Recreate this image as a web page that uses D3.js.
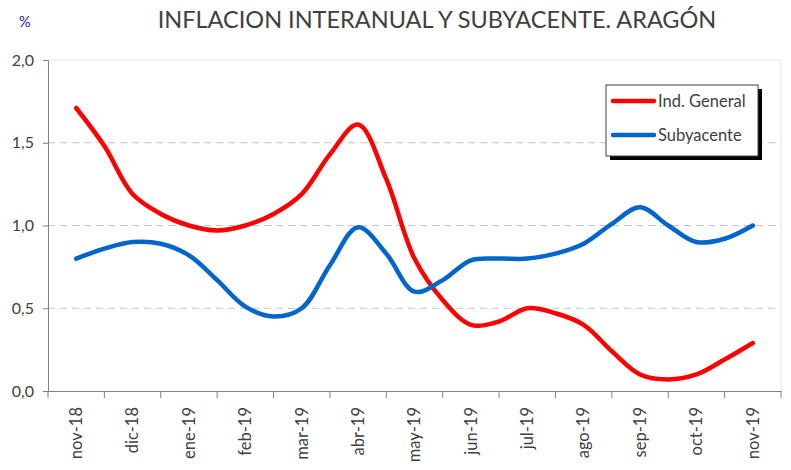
<!DOCTYPE html>
<html>
<head>
<meta charset="utf-8">
<script src="https://cdn.jsdelivr.net/npm/d3@7"></script>
<style>
  body { margin: 0; background: #fff; }
  text { font-family: Lato, "Open Sans", sans-serif; }
</style>
</head>
<body>
<div id="chart"></div>
<script>
// month labels on the category axis
var months = ["nov-18", "dic-18", "ene-19", "feb-19", "mar-19", "abr-19", "may-19",
    "jun-19", "jul-19", "ago-19", "sep-19", "oct-19", "nov-19"];
// sample positions, in months from nov-18
var pos = [0, 0.5, 1, 1.5, 2, 2.5, 3, 3.5, 4, 4.5, 5, 5.5, 6, 6.5, 7, 7.5, 8, 8.5,
    9, 9.5, 10, 10.5, 11, 11.5, 12];
var general = [1.71, 1.48, 1.19, 1.07, 1.00, 0.97, 1.00, 1.07, 1.19, 1.43, 1.61, 1.28,
    0.80, 0.55, 0.40, 0.42, 0.50, 0.47, 0.40, 0.24, 0.10, 0.07, 0.10, 0.19, 0.29];
var subyacente = [0.80, 0.86, 0.90, 0.89, 0.82, 0.67, 0.51, 0.45, 0.50, 0.76, 0.99, 0.83,
    0.60, 0.67, 0.79, 0.80, 0.80, 0.83, 0.89, 1.01, 1.11, 1.00, 0.90, 0.92, 1.00];
var yTicks = [0, 0.5, 1, 1.5, 2];

var w = 791, h = 470;
var mLeft = 48, mRight = 781, mTop = 60, mBottom = 391;

var svg = d3.select("#chart").append("svg")
    .attr("width", w)
    .attr("height", h);

var band = d3.scaleBand().domain(months).range([mLeft, mRight]);
var x = d3.scaleLinear()
    .domain([0, months.length - 1])
    .range([mLeft + band.bandwidth() / 2, mRight - band.bandwidth() / 2]);
var y = d3.scaleLinear().domain([0, 2]).range([mBottom, mTop]);

// grid
svg.selectAll(".grid")
    .data(yTicks.filter(function (d) { return d > 0; }))
    .enter().append("line")
    .attr("x1", mLeft).attr("x2", mRight)
    .attr("y1", function (d) { return y(d); })
    .attr("y2", function (d) { return y(d); })
    .attr("stroke", function (d) { return d === 2 ? "#e6e6e6" : "#c4c4c4"; })
    .attr("stroke-dasharray", function (d) { return d === 2 ? null : "7 5"; });

svg.append("line")
    .attr("x1", mRight).attr("x2", mRight)
    .attr("y1", mTop).attr("y2", mBottom)
    .attr("stroke", "#e6e6e6");

// y axis
var yAxis = svg.append("g")
    .attr("transform", "translate(" + mLeft + ",0)")
    .call(d3.axisLeft(y).tickValues(yTicks).tickSize(5).tickPadding(9)
        .tickFormat(function (d) { return d3.format(".1f")(d).replace(".", ","); }));
yAxis.select(".domain").attr("stroke", "#808080");
yAxis.selectAll(".tick line").attr("stroke", "#808080");
yAxis.selectAll("text").attr("fill", "#404040").style("font-size", "16px");

// x axis
var xAxis = svg.append("g")
    .attr("transform", "translate(0," + mBottom + ")")
    .call(d3.axisBottom(band).tickSize(0).tickSizeOuter(0));
xAxis.select(".domain").attr("stroke", "#808080");
xAxis.selectAll(".tick text")
    .attr("fill", "#404040")
    .style("font-size", "16.5px")
    .attr("transform", "rotate(-90)")
    .attr("text-anchor", "end")
    .attr("dx", "-16px")
    .attr("dy", "0.35em")
    .attr("x", 0).attr("y", 0);
// tick marks at band boundaries
xAxis.selectAll(".bound")
    .data(months.concat(["end"]))
    .enter().append("line")
    .attr("x1", function (d, i) { return mLeft + i * band.step(); })
    .attr("x2", function (d, i) { return mLeft + i * band.step(); })
    .attr("y1", 0).attr("y2", 7)
    .attr("stroke", "#808080");

// lines
var line = d3.line()
    .x(function (d) { return x(d[0]); })
    .y(function (d) { return y(d[1]); })
    .curve(d3.curveCatmullRom.alpha(0.5));

[[general, "#ff0000"], [subyacente, "#0066cc"]].forEach(function (s) {
    svg.append("path")
        .attr("d", line(d3.zip(pos, s[0])))
        .attr("fill", "none")
        .attr("stroke", s[1])
        .attr("stroke-width", 4.5)
        .attr("stroke-linecap", "round");
});

// title
svg.append("text")
    .attr("x", 437).attr("y", 28)
    .attr("text-anchor", "middle")
    .attr("fill", "#404040")
    .style("font-size", "23.5px")
    .text("INFLACION INTERANUAL Y SUBYACENTE. ARAGÓN");

svg.append("text")
    .attr("x", 19).attr("y", 27)
    .attr("fill", "#1a1a99")
    .style("font-size", "14.5px")
    .text("%");

// legend
var lg = svg.append("g").attr("transform", "translate(606,85)");
lg.append("rect").attr("x", 4).attr("y", 4).attr("width", 152).attr("height", 71).attr("fill", "#000");
lg.append("rect").attr("x", 0).attr("y", 0).attr("width", 152).attr("height", 71)
    .attr("fill", "#fff").attr("stroke", "#404040");
[["Ind. General", "#ff0000"], ["Subyacente", "#0066cc"]].forEach(function (d, i) {
    var yy = 16 + i * 34;
    lg.append("line").attr("x1", 7).attr("x2", 48).attr("y1", yy).attr("y2", yy)
        .attr("stroke", d[1]).attr("stroke-width", 4.5).attr("stroke-linecap", "round");
    lg.append("text").attr("x", 52).attr("y", yy + 6)
        .attr("fill", "#404040").style("font-size", "16.5px").text(d[0]);
});
</script>
</body>
</html>
